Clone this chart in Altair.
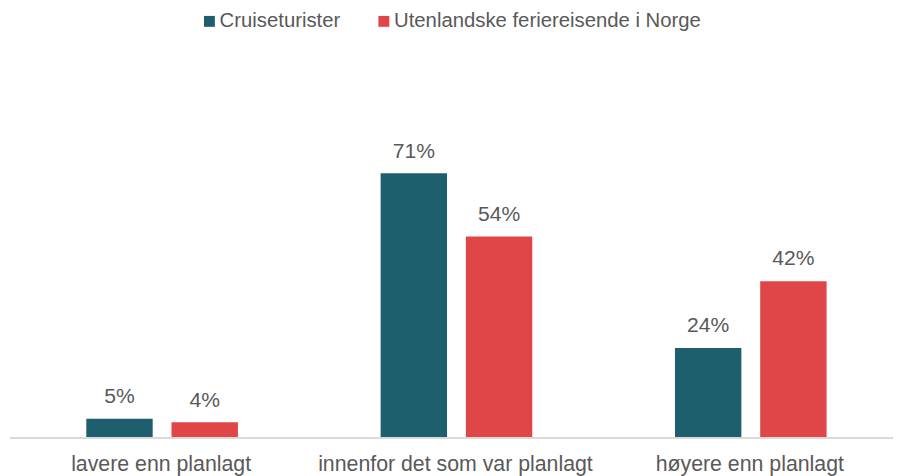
import altair as alt
import pandas as pd

categories = ["lavere enn planlagt", "innenfor det som var planlagt", "høyere enn planlagt"]
series = ["Cruiseturister", "Utenlandske feriereisende i Norge"]
cruise = [0.05, 0.71, 0.24]
foreign = [0.04, 0.54, 0.42]
colors = ["#1E5F6E", "#E04647"]

rows = []
for c, a, b in zip(categories, cruise, foreign):
    rows.append({"kategori": c, "serie": series[0], "verdi": a})
    rows.append({"kategori": c, "serie": series[1], "verdi": b})
df = pd.DataFrame(rows)

FONT = "Liberation Sans"
GREY = "#595959"

x = alt.X("kategori:N", sort=categories, title=None,
          scale=alt.Scale(paddingInner=0, paddingOuter=0),
          axis=alt.Axis(labelAngle=0, ticks=False, labelPadding=17, labelFontSize=21.5,
                        labelColor=GREY, labelFont=FONT, domain=False, labelOffset=4,
                        grid=False, labelLimit=0))
xo = alt.XOffset("serie:N", sort=series,
                 scale=alt.Scale(paddingInner=0.2209, paddingOuter=0.8372, align=0.5347))
y = alt.Y("verdi:Q", scale=alt.Scale(domain=[0, 1], nice=False), axis=None)

base = alt.Chart(df).encode(x=x, xOffset=xo, y=y)

bars = base.mark_bar().encode(
    color=alt.Color("serie:N", sort=series,
                    scale=alt.Scale(domain=series, range=colors),
                    legend=alt.Legend(title=None, orient="none", direction="horizontal",
                                      legendX=191, legendY=-55, symbolType="square",
                                      symbolSize=121, symbolStrokeWidth=0,
                                      labelFontSize=20.5, labelFont=FONT, labelColor=GREY,
                                      labelOffset=0, columnPadding=33, labelLimit=0))
)

text = base.mark_text(dy=-16, baseline="alphabetic", align="center",
                      fontSize=21.3, font=FONT, color=GREY).encode(
    text=alt.Text("verdi:Q", format=".0%")
)

baseline = alt.Chart(df).mark_rule(color="#D9D9D9", strokeWidth=1.5).encode(
    x=alt.value(0), x2=alt.value(891), y=alt.value(375.5)
)

chart = alt.layer(bars, text, baseline).properties(
    width=891, height=375,
    autosize=alt.AutoSizeParams(type="none"),
    padding={"left": 2, "top": 56, "right": 0, "bottom": 37},
).configure_view(stroke=None)

chart.save("out.html", embed_options={"renderer": "svg", "actions": False})
